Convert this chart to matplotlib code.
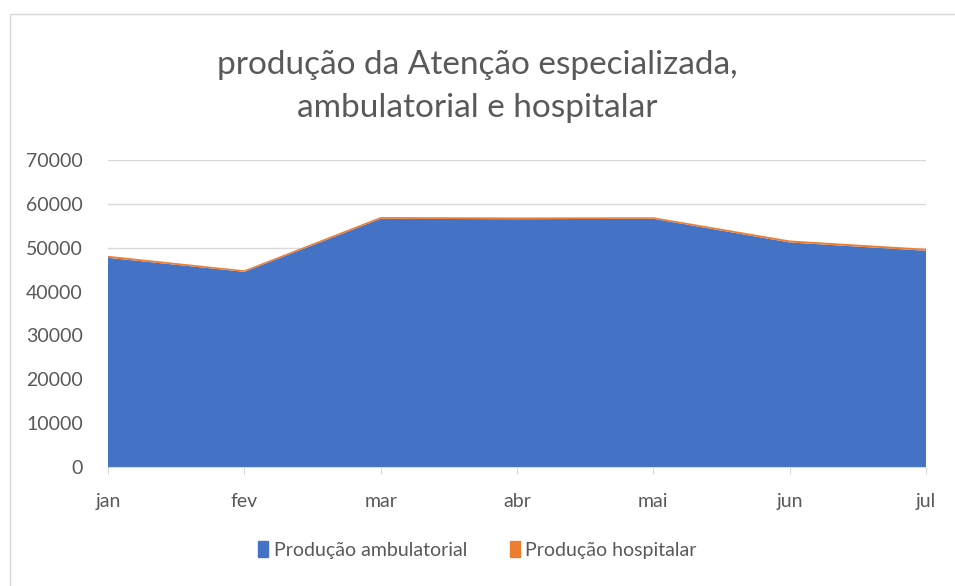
import matplotlib.pyplot as plt
from matplotlib.patches import Rectangle, Patch

months = ['jan', 'fev', 'mar', 'abr', 'mai', 'jun', 'jul']
ambulatorial = [47700, 44500, 56600, 56500, 56600, 51200, 49300]
hospitalar = [450, 350, 400, 400, 350, 450, 450]

blue = '#4472C4'
orange = '#ED7D31'

plt.rcParams['font.family'] = ['Lato', 'DejaVu Sans']

fig = plt.figure(figsize=(9.55, 5.86), dpi=100)
ax = fig.add_axes([108 / 955, 1 - 467 / 586, 818 / 955, 307 / 586])

x = list(range(len(months)))
ax.stackplot(x, ambulatorial, hospitalar, colors=[blue, orange],
             labels=['Produção ambulatorial', 'Produção hospitalar'],
             linewidth=0)

ax.set_xlim(0, len(months) - 1)
ax.set_ylim(0, 70000)
ax.set_yticks(range(0, 70001, 10000))
ax.set_xticks(x)
ax.set_xticklabels(months)
ax.grid(axis='y', color='#d9d9d9', linewidth=1)
ax.set_axisbelow(True)
for s in ['top', 'right', 'left']:
    ax.spines[s].set_visible(False)
ax.spines['bottom'].set_color('#d9d9d9')
ax.tick_params(axis='y', length=0, labelsize=14, labelcolor='#595959', pad=18)
ax.tick_params(axis='x', length=5, color='#d9d9d9', labelsize=14,
               labelcolor='#595959', pad=14)

fig.text(0.5, 1 - 65 / 586, 'produção da Atenção especializada,',
         ha='center', va='center', fontsize=24, color='#595959')
fig.text(0.5, 1 - 108 / 586, 'ambulatorial e hospitalar',
         ha='center', va='center', fontsize=24, color='#595959')

handles = [Patch(color=blue), Patch(color=orange)]
fig.legend(handles, ['Produção ambulatorial', 'Produção hospitalar'],
           loc='center', bbox_to_anchor=(0.5, 1 - 550 / 586), ncol=2,
           frameon=False, fontsize=14, handlelength=0.5, handleheight=0.9,
           handletextpad=0.3, columnspacing=2.2, labelcolor='#595959')

fig.patches.append(Rectangle((10 / 955, -0.1), 1.0, 1 - 14 / 586 + 0.1,
                             transform=fig.transFigure, fill=False,
                             edgecolor='#d9d9d9', linewidth=1))

fig.savefig('out.png', dpi=100)
